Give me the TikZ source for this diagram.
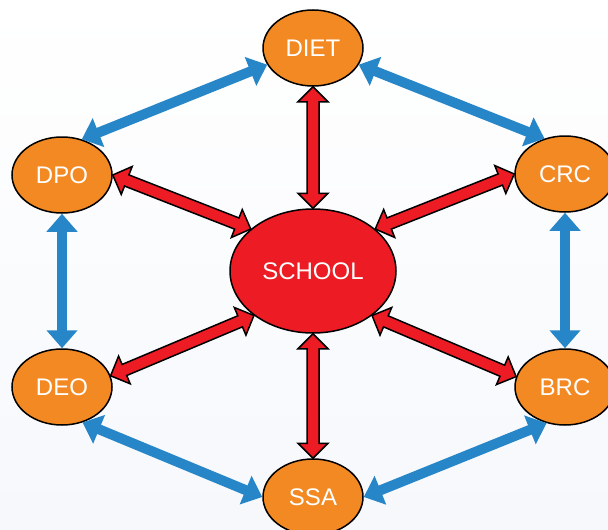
\documentclass[tikz,border=0pt]{standalone}
\usepackage{fontspec}
\setmainfont{Liberation Sans}
\usetikzlibrary{calc,arrows.meta,shapes.geometric}
\definecolor{orng}{RGB}{243,137,34}
\definecolor{schred}{RGB}{237,28,36}
\definecolor{blu}{RGB}{38,134,200}
\definecolor{bgbot}{RGB}{246,248,252}
\newcommand\redarrow[2]{%
\draw[redarr] (#1)
 -- ($($(#1)!15pt!(#2)$)!15pt!90:(#2)$)
 -- ($($(#1)!15pt!(#2)$)!6pt!90:(#2)$)
 -- ($($(#2)!15pt!(#1)$)!6pt!-90:(#1)$)
 -- ($($(#2)!15pt!(#1)$)!15pt!-90:(#1)$)
 -- (#2)
 -- ($($(#2)!15pt!(#1)$)!15pt!90:(#1)$)
 -- ($($(#2)!15pt!(#1)$)!6pt!90:(#1)$)
 -- ($($(#1)!15pt!(#2)$)!6pt!-90:(#2)$)
 -- ($($(#1)!15pt!(#2)$)!15pt!-90:(#2)$)
 -- cycle;}
\tikzset{
 outer/.style={ellipse, draw=black, line width=1.5pt, fill=orng, minimum width=100pt, minimum height=76pt, inner sep=0pt, text=white, font=\fontsize{24}{28}\selectfont},
 center/.style={ellipse, draw=black, line width=1.5pt, fill=schred, minimum width=166pt, minimum height=124pt, inner sep=0pt, text=white, font=\fontsize{24}{28}\selectfont},
 redarr/.style={draw=black, fill=schred, line width=1.5pt, line join=miter},
 bluarr/.style={draw=blu, line width=10pt, {Triangle[length=18pt,width=30pt]}-{Triangle[length=18pt,width=30pt]}}
}
\begin{document}
\begin{tikzpicture}[x=1pt,y=-1pt]
\useasboundingbox (0,0) rectangle (608,530);
\fill[top color=white, bottom color=bgbot] (0,0) rectangle (608,530);
\node[outer] (diet) at (313,48) {DIET};
\node[outer] (dpo) at (62,175) {DPO};
\node[outer] (crc) at (565,174) {CRC};
\node[outer] (deo) at (62,387) {DEO};
\node[outer] (brc) at (565,387) {BRC};
\node[outer] (ssa) at (313,497) {SSA};
\node[center] (school) at (313,271) {SCHOOL};
% red double arrows
\redarrow{diet.south}{school.north}
\redarrow{school.south}{ssa.north}
\redarrow{dpo.0}{school.146}
\redarrow{crc.180}{school.34}
\redarrow{deo.13}{school.217}
\redarrow{brc.168}{school.323}
% blue double arrows
\draw[bluarr] (diet.200) -- (dpo.61);
\draw[bluarr] (diet.340) -- (crc.120);
\draw[bluarr] (dpo.south) -- (deo.north);
\draw[bluarr] (crc.south) -- (brc.north);
\draw[bluarr] (deo.300) -- (ssa.180);
\draw[bluarr] (ssa.0) -- (brc.243);
\end{tikzpicture}
\end{document}
